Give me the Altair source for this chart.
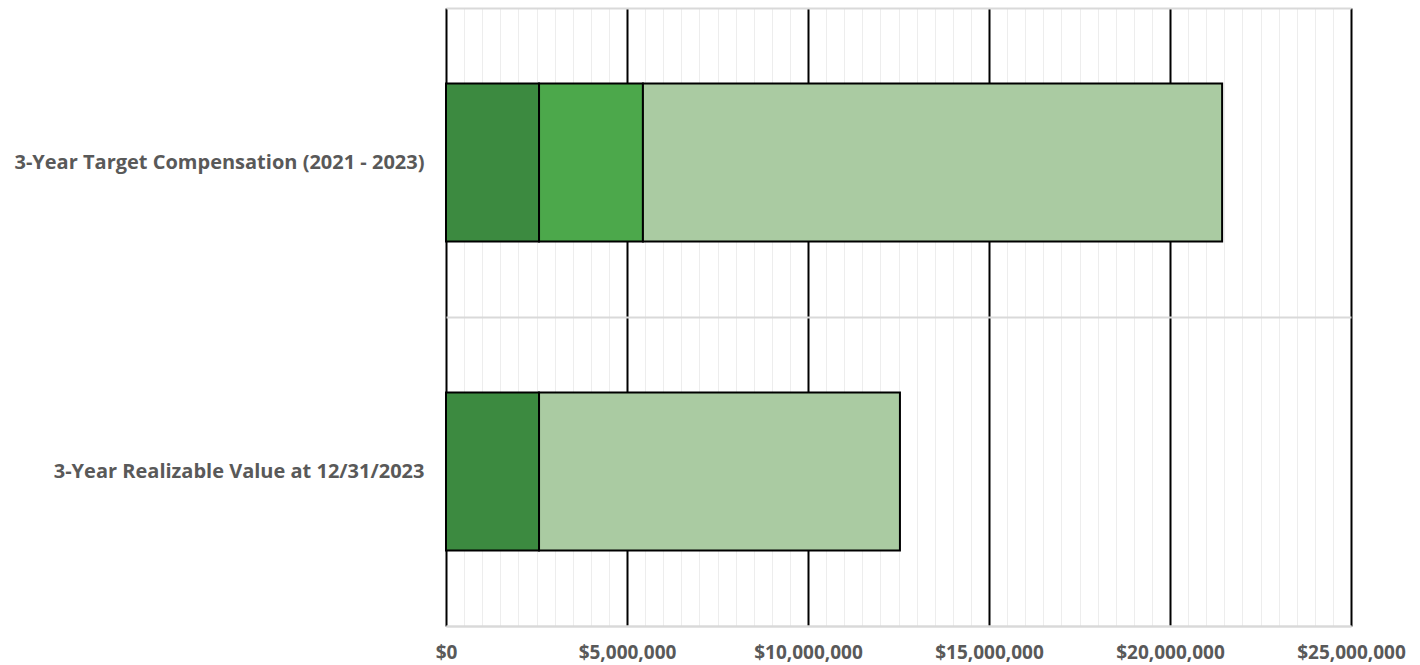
import altair as alt
import pandas as pd

categories = ["3-Year Target Compensation (2021 - 2023)", "3-Year Realizable Value at 12/31/2023"]
series = ["Base Salary", "Annual Incentive", "Long-Term Incentive"]
colors = ["#3C8A40", "#4CA84B", "#AACBA2"]
values = {
    "Base Salary": [2570000, 2570000],
    "Annual Incentive": [2870000, 0],
    "Long-Term Incentive": [16000000, 9970000],
}
tick_values = [i * 500000 for i in range(51)]

rows = []
for si, s in enumerate(series):
    for ci, c in enumerate(categories):
        v = values[s][ci]
        if v > 0:
            rows.append({"category": c, "series": s, "value": v, "ord": si})
df = pd.DataFrame(rows)

is_major = "datum.value % 5000000 === 0"
FONT = "Open Sans"

chart = alt.Chart(df).mark_bar(size=158, stroke="black", strokeWidth=2).encode(
    x=alt.X("value:Q", stack="zero",
            scale=alt.Scale(domain=[0, 25000000], nice=False, zero=True),
            axis=alt.Axis(title=None, values=tick_values,
                          labelExpr=f"{is_major} ? '$' + format(datum.value, ',') : ''",
                          gridColor={"condition": {"test": is_major, "value": "#000000"}, "value": "#EDEDED"},
                          gridWidth={"condition": {"test": is_major, "value": 2}, "value": 1},
                          ticks=False, domainColor="#D9D9D9", domainWidth=2,
                          labelFont=FONT, labelFontWeight="bold", labelFontSize=19,
                          labelColor="#595959", labelPadding=17, labelOverlap=False,
                          labelFlush=False)),
    y=alt.Y("category:N", sort=categories,
            scale=alt.Scale(paddingInner=0, paddingOuter=0),
            axis=alt.Axis(title=None, domain=False, ticks=False, tickBand="extent",
                          grid=True, gridColor="#D9D9D9", gridWidth=2,
                          labelFont=FONT, labelFontWeight="bold", labelFontSize=20,
                          labelColor="#595959", labelPadding=22, labelLimit=500)),
    color=alt.Color("series:N", scale=alt.Scale(domain=series, range=colors), legend=None),
    order=alt.Order("ord:Q"),
).properties(
    width=905, height=618,
    autosize=alt.AutoSizeParams(type="none"),
    padding={"left": 446, "top": 8, "right": 69, "bottom": 39},
).configure_view(stroke=None).configure(background="white")

chart.save("out.html", embed_options={"renderer": "svg", "actions": False})
